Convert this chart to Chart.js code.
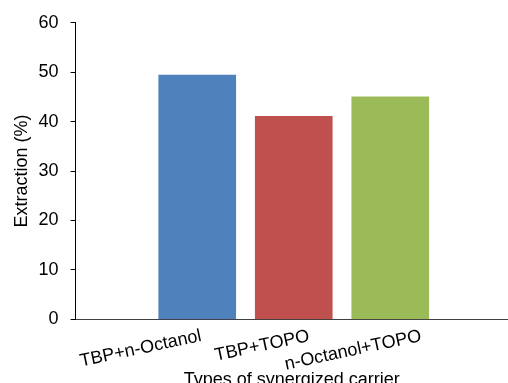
<!DOCTYPE html>
<html>
<head>
<meta charset="utf-8">
<script src="https://cdn.jsdelivr.net/npm/chart.js@4"></script>
<style>
  html, body { margin: 0; padding: 0; background: #fff; overflow: hidden; }
  #wrap { width: 508px; height: 391px; }
</style>
</head>
<body>
<div id="wrap"><canvas id="chart"></canvas></div>
<script>
const categories = ["TBP+n-Octanol", "TBP+TOPO", "n-Octanol+TOPO"];
const extraction = [49.4, 41.1, 45.0];
const barColors = ["#4F81BD", "#C0504D", "#9BBB59"];
const yTicks = [0, 10, 20, 30, 40, 50, 60];

// Excel puts the slanted labels a little right of each bar centre
const labelShift = [0.04, 0.16, 0.32];

const FONT = "'Liberation Sans', Arial, sans-serif";

new Chart(document.getElementById("chart"), {
  type: "bar",
  data: {
    datasets: [{
      data: categories.map((c, i) => ({ x: i + 1, y: extraction[i] })),
      backgroundColor: barColors,
      borderWidth: 0,
      barThickness: 77
    }]
  },
  options: {
    responsive: true,
    maintainAspectRatio: false,
    animation: false,
    layout: { padding: { top: 13, left: 11, right: -15, bottom: 0 } },
    plugins: {
      legend: { display: false },
      tooltip: { enabled: false }
    },
    scales: {
      x: {
        type: "linear",
        offset: false,
        min: -0.26,
        max: 4.22,
        grid: { display: false, drawTicks: false },
        border: { color: "#404040", width: 1 },
        afterBuildTicks: axis => {
          axis.ticks = categories.map((c, i) => ({ value: i + 1 + labelShift[i] }))
        },
        ticks: {
          autoSkip: false,
          minRotation: 12,
          maxRotation: 12,
          padding: 6,
          color: "#000",
          font: { family: FONT, size: 18 },
          callback: (v, i) => categories[i]
        },
        title: {
          display: true,
          text: "Types of synergized carrier",
          color: "#000",
          font: { family: FONT, size: 18 },
          padding: { top: -12, bottom: 0 }
        }
      },
      y: {
        min: 0,
        max: 60,
        afterBuildTicks: axis => {
          axis.ticks = yTicks.map(v => ({ value: v }))
        },
        grid: { drawOnChartArea: false, drawTicks: true, tickLength: 5, color: "#000" },
        border: { color: "#000", width: 1 },
        ticks: {
          padding: 12,
          color: "#000",
          font: { family: FONT, size: 18 }
        },
        title: {
          display: true,
          text: "Extraction (%)",
          color: "#000",
          font: { family: FONT, size: 18 },
          padding: { top: 0, bottom: -6 }
        }
      }
    }
  }
})
</script>
</body>
</html>
